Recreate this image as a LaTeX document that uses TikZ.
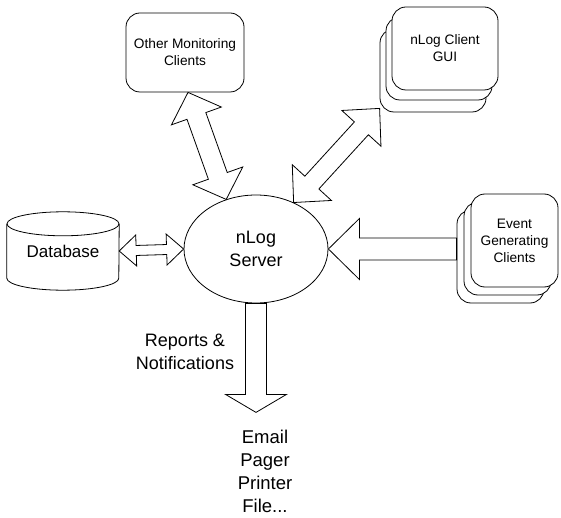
\documentclass[tikz,border=0pt]{standalone}
\usepackage{fontspec}
\setmainfont{Liberation Sans}
\usetikzlibrary{calc, shapes.geometric}

% block arrows: #1 from, #2 to, #3 half shaft, #4 half head, #5 head length
\newcommand{\twowayarrow}[5]{%
  \draw[blockarrow] (#1)
    -- ($(#1)!#5!(#2)!#4!90:(#2)$) -- ($(#1)!#5!(#2)!#3!90:(#2)$)
    -- ($(#2)!#5!(#1)!#3!-90:(#1)$) -- ($(#2)!#5!(#1)!#4!-90:(#1)$)
    -- (#2)
    -- ($(#2)!#5!(#1)!#4!90:(#1)$) -- ($(#2)!#5!(#1)!#3!90:(#1)$)
    -- ($(#1)!#5!(#2)!#3!-90:(#2)$) -- ($(#1)!#5!(#2)!#4!-90:(#2)$)
    -- cycle;}
\newcommand{\onewayarrow}[5]{%
  \draw[blockarrow] ($(#1)!#3!90:(#2)$)
    -- ($(#2)!#5!(#1)!#3!-90:(#1)$) -- ($(#2)!#5!(#1)!#4!-90:(#1)$)
    -- (#2)
    -- ($(#2)!#5!(#1)!#4!90:(#1)$) -- ($(#2)!#5!(#1)!#3!90:(#1)$)
    -- ($(#1)!#3!-90:(#2)$)
    -- cycle;}

\begin{document}
\begin{tikzpicture}[x=1pt, y=-1pt,
    box/.style={draw, fill=white, rounded corners=14pt, line width=0.8pt,
      align=center, inner sep=0pt, font=\fontsize{13.7}{17}\selectfont},
    bigtext/.style={align=center, font=\fontsize{18}{23}\selectfont},
    blockarrow/.style={draw, fill=white, line width=0.8pt}]
    \useasboundingbox (0,0) rectangle (561,518);

    % clients
    \node[box, minimum width=118pt, minimum height=79pt] (omc) at (185,52.5) {Other Monitoring\\Clients};

    \node[box, minimum width=106pt, minimum height=83pt] (gui3) at (433,70.5) {};
    \node[box, minimum width=106pt, minimum height=83pt] (gui2) at (439,58.5) {};
    \node[box, minimum width=106pt, minimum height=83pt] (gui) at (445,48.5) {nLog Client\\GUI};

    \node[box, minimum width=87pt, minimum height=93pt] (evt3) at (500.5,256.5) {};
    \node[box, minimum width=87pt, minimum height=93pt] (evt2) at (507.5,248.5) {};
    \node[box, minimum width=87pt, minimum height=93pt] (evt) at (514.5,240.5) {Event\\Generating\\Clients};

    % server and database
    \node[draw, ellipse, line width=0.8pt, minimum width=144pt, minimum height=108pt,
      inner sep=0pt, bigtext] (srv) at (256,249) {nLog\\Server};

    \node[minimum width=112pt, minimum height=54pt, inner sep=0pt,
      font=\fontsize{17}{20}\selectfont] (db) at (63,251) {Database};
    \draw[line width=0.8pt] (db.north west) -- (db.south west)
      arc[start angle=180, end angle=360, x radius=56pt, y radius=12pt] -- (db.north east);
    \draw[line width=0.8pt] (db.north) ellipse[x radius=56pt, y radius=12pt];

    % outputs
    \node[bigtext] (rep) at (185,352) {Reports \&\\Notifications};
    \node[bigtext, font=\fontsize{18.5}{23}\selectfont] (dest) at (265,471) {Email\\Pager\\Printer\\File...};

    % arrows
    \coordinate (omctip) at ([xshift=3pt]omc.south);
    \coordinate (guitip) at ([yshift=4pt]gui3.south west);
    \coordinate (evttail) at (evt3.west |- srv.east);
    \coordinate (outtip) at ([yshift=-109pt]srv.south);

    \twowayarrow{omctip}{srv.121}{10pt}{26.5pt}{25pt}
    \twowayarrow{srv.51}{guitip}{9.5pt}{26.5pt}{27pt}
    \twowayarrow{db.east}{srv.west}{5pt}{15.5pt}{17pt}
    \onewayarrow{evttail}{srv.east}{11pt}{30.5pt}{31pt}
    \onewayarrow{srv.south}{outtip}{10.5pt}{30.5pt}{18pt}
\end{tikzpicture}
\end{document}
